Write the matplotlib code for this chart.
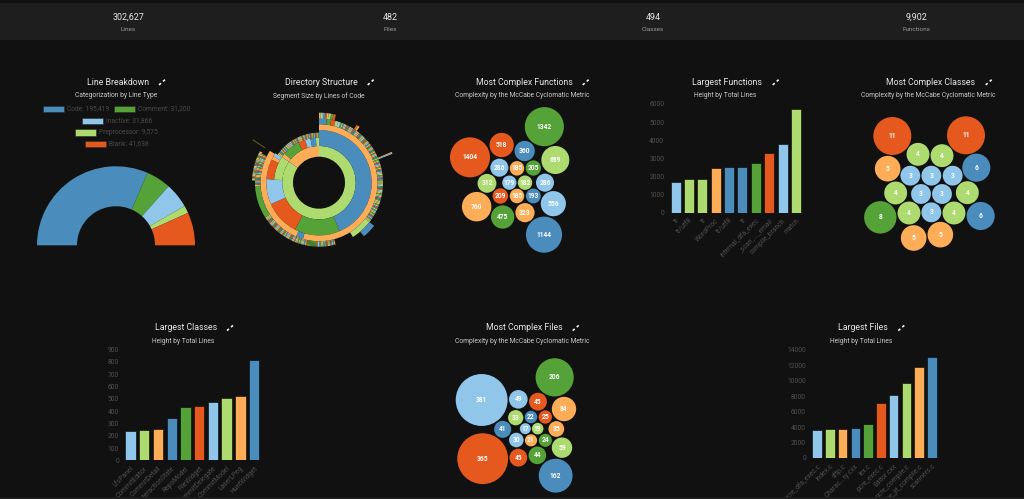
import matplotlib
matplotlib.use("Agg")
import matplotlib.pyplot as plt
from matplotlib.patches import Rectangle

plt.rcParams['font.family'] = ['Roboto', 'DejaVu Sans']
W, H = 1024, 499
BG, BAND = '#111111', '#1e1e1e'
PAL = {'b': '#4a8cbc', 'g': '#55a238', 'L': '#8fc6ea', 'l': '#aedb70', 'o': '#fdad57', 'r': '#e5591f', '.': 'none', 'n': '#6b5a2a'}

# ---- data ----
stat_values = ['302,627', '482', '494', '9,902']
stat_names = ['Lines', 'Files', 'Classes', 'Functions']

line_types = ['Code', 'Comment', 'Inactive', 'Preprocessor', 'Blank']
line_counts = [195419, 31200, 31866, 9575, 41638]
line_labels = ['195,419', '31,200', '31,866', '9,575', '41,638']
line_colors = ['b', 'g', 'L', 'l', 'r']

func_names = ['tr', 'tr/utf8', 'tr', 'WordProc', 'tr/utf8', 'tr', 'internal_dfa_exec', '_scan_..._email', 'compile_branch', 'match']
func_lines = [1700, 1850, 1850, 2480, 2520, 2520, 2730, 3270, 3800, 5700]
func_colors = 'LllobbgrLl'

class_names = ['LfsPanel', 'CommitEditor', 'CommitDetail', 'InteractionState', 'RepoModel', 'FileWidget', 'CommitDelegate', 'CommitModel', 'LaserLPeg', 'HuntWidget']
class_lines = [240, 250, 255, 345, 435, 440, 475, 510, 520, 820]
class_colors = 'LlobgrLlob'

file_names = ['pcre_dfa_exec.c', 'index.c', 'sftp.c', 'Charac...ry.cxx', 'lex.c', 'pcre_exec.c', 'Editor.cxx', 'pcre_compile.c', 'pcre_jit_compile.c', 'scanners.c']
file_lines = [3650, 3700, 3750, 3950, 4350, 7100, 8200, 9750, 11850, 13100]
file_colors = 'LlobgrLlob'

cx_func_values = [1404, 518, 1342, 360, 689, 286, 185, 205, 312, 179, 182, 286, 209, 185, 193, 760, 556, 475, 323, 1144]
cx_func_colors = 'rrgblLoglLlLroboLgob'
cx_func_x = [120, 215, 343, 284, 376, 208, 261, 310, 171, 238, 285, 345, 211, 261, 310, 140, 370, 218, 285, 342]
cx_func_y = [262, 225, 170, 243, 270, 293, 295, 294, 340, 338, 338, 338, 378, 378, 378, 410, 401, 441, 428, 494]

cx_file_values = [381, 49, 45, 206, 84, 33, 22, 25, 41, 17, 19, 35, 30, 21, 24, 59, 365, 45, 44, 162]
cx_file_colors = 'LLrgolbrbLloLoglrrgb'
cx_file_x = [125, 235, 294, 344, 372, 227, 273, 316, 188, 256, 293, 349, 229, 273, 316, 366, 128, 235, 292, 347]
cx_file_y = [240, 238, 245, 172, 267, 293, 291, 291, 328, 326, 326, 327, 360, 361, 361, 383, 416, 413, 406, 467]

cx_class_values = [11, 11, 4, 4, 5, 6, 3, 3, 3, 4, 3, 3, 4, 8, 4, 3, 4, 6, 5, 5]
cx_class_colors = 'rrllobLLLlLLlglLlboo'
cx_class_x = [127, 348, 204, 276, 113, 379, 181, 244, 308, 137, 213, 276, 352, 91, 177, 244, 312, 392, 191, 271]
cx_class_y = [198, 196, 253, 257, 296, 293, 317, 317, 317, 369, 372, 372, 368, 442, 429, 427, 429, 438, 504, 494]

# Sunburst: each ring is (inner, outer, [(degrees clockwise, colours)]);
# several colour letters share their arc in equal stripes
sun_center = (319, 182.7)
sun_rings = [
    (26, 36.7, [(305, 'l'), (55, 'o')]),
    (36.7, 52.7, [(157, 'b'), (50, 'g'), (39, 'r'), (28, 'L')]),
    (36.7, 45, [(274, '.'), (31, 'l'), (5, 'o'), (23, 'g'), (9, 'r'), (7, 'L'), (7, 'b'), (4, 'l')]),
    (45, 52.7, [(274, '.'), (22, 'r'), (8, 'oL'), (56, '.')]),
    (45, 50, [(304, '.'), (6, 'logb'), (10, 'lrobLglo'), (8, 'LoLlbr'), (10, 'lgobrLlo'), (22, 'lrgLobrlogLbrolgLbrolg')]),
    (52.7, 58.5, [(196, 'o'), (7, 'b'), (100, 'o')]),
    (58.5, 64, [(7, 'b'), (4, 'g'), (4, 'r'), (5, 'lL'),
                (108, 'glboLrgbloLrbgLolrbgoLlbrgoLblrgLobglrLobglglrbLoglrbLolgLrbglolLgbrlLoglLrbglolgLrblgLoglrbLgol'),
                (20, 'l'), (17, '.'),
                (35, 'ogLbrlorgLblogbLrgggggggggrobLlogLg'), (37, 'olrLobgrlLoblgrLobgrlLobrgLlobrgLol'),
                (30, 'g'), (30, 'lrbLogbrlogLbrlogLrblgoLlbrog'), (60, '.')]),
    (64, 70, [(8, 'olLbro'), (6, 'lgr'), (114, '.'), (12, 'b')]),
    (64, 67, [(272, '.'), (26, 'lgrLolgrLolbrgLolgrlLo')]),
    (64, 69, [(33, '.'), (3, 'ro'), (324, '.')]),
    (64, 79, [(67, '.'), (1.5, 'oL'), (234, '.'), (0.8, 'n')]),
]

# ---- figure ----
fig = plt.figure(figsize=(W / 100, H / 100), dpi=100, facecolor=BG)

def px_axes(x0, y_top, w, h, **kw):
    return fig.add_axes([x0 / W, 1 - (y_top + h) / H, w / W, h / H], **kw)

# overlay in image pixels
ov = fig.add_axes([0, 0, 1, 1], zorder=5)
ov.set_xlim(0, W); ov.set_ylim(H, 0); ov.axis('off'); ov.patch.set_alpha(0)
ov.add_patch(Rectangle((0, 3), W, 37, color=BAND, lw=0, zorder=0))
ov.add_patch(Rectangle((0, 497), W, 2, color=BAND, lw=0, zorder=10))

for x, v, n in zip([128.5, 390.5, 653, 916], stat_values, stat_names):
    ov.text(x, 17, v, color='#e8e8e8', fontsize=6.4, ha='center', va='center')
    ov.text(x, 29, n, color='#9a9a9a', fontsize=4.6, ha='center', va='center')

titles = [
    ('Line Breakdown', 118, 82.3, 162, 116, 95.7, 'Categorization by Line Type'),
    ('Directory Structure', 321, 82.3, 370.7, 319, 95.7, 'Segment Size by Lines of Code'),
    ('Most Complex Functions', 524.3, 82.3, 585.7, 522, 95.7, 'Complexity by the McCabe Cyclomatic Metric'),
    ('Largest Functions', 727.3, 82.3, 775.7, 725, 95.7, 'Height by Total Lines'),
    ('Most Complex Classes', 930.7, 82.3, 988.7, 928.7, 95.7, 'Complexity by the McCabe Cyclomatic Metric'),
    ('Largest Classes', 185.7, 328, 230, 183.3, 341.3, 'Height by Total Lines'),
    ('Most Complex Files', 524.3, 328, 575.7, 522.3, 341.3, 'Complexity by the McCabe Cyclomatic Metric'),
    ('Largest Files', 863, 328, 901.3, 861, 341.3, 'Height by Total Lines'),
]
for t, x, y, ix, sx, sy, sub in titles:
    ov.text(x, y, t, color='#e6e6e6', fontsize=6.3, ha='center', va='center')
    # expand icon: no installed font has this glyph, so it is two short diagonal strokes
    ov.plot([ix - 3, ix - 1], [y + 2.6, y + 0.9], color='#f2f2f2', lw=1.2, solid_capstyle='butt')
    ov.plot([ix + 1, ix + 3], [y - 0.9, y - 2.6], color='#f2f2f2', lw=1.2, solid_capstyle='butt')
    ov.text(sx, sy, sub, color='#c8c8c8', fontsize=4.9, ha='center', va='center')

# legend of the gauge
legend_pos = [(43.3, 109), (114.3, 109), (81.7, 120.7), (75.3, 132.3), (84.7, 143.7)]
for (lx, ly), name, lab, c in zip(legend_pos, line_types, line_labels, line_colors):
    ov.add_patch(Rectangle((lx, ly - 3.2), 21, 6.4, facecolor=PAL[c], edgecolor='#2a2a2a', lw=0.4))
    ov.text(lx + 24, ly, f'{name}: {lab}', color='#4a4a4a', fontsize=4.8, ha='left', va='center')

# gauge
R = 79
ga = px_axes(116 - R, 245.3 - R, 2 * R, 2 * R)
ga.pie(line_counts + [sum(line_counts)], colors=[PAL[c] for c in line_colors] + ['none'], radius=1,
       startangle=180, counterclock=False, wedgeprops=dict(width=0.506, lw=0))
ga.set_xlim(-1, 1); ga.set_ylim(-1, 1); ga.patch.set_alpha(0)

# sunburst
RS = 80
sa = px_axes(sun_center[0] - RS, sun_center[1] - RS, 2 * RS, 2 * RS)
for inner, outer, arcs in sun_rings:
    sizes, cols = [], []
    for deg, pat in arcs:
        for ch in pat:
            sizes.append(deg / len(pat))
            cols.append(PAL[ch])
    total = sum(sizes)
    if total < 360:
        sizes.append(360 - total); cols.append('none')
    sa.pie(sizes, colors=cols, radius=outer / RS, startangle=90, counterclock=False, normalize=True,
           wedgeprops=dict(width=(outer - inner) / RS, lw=0))
sa.set_xlim(-1, 1); sa.set_ylim(-1, 1); sa.patch.set_alpha(0)

# bubbles (positions read in 3x crops with known origins)
def bubbles(vals, cols, xs, ys, ox, oy, k, fs):
    px = [ox + x / 3 for x in xs]
    py = [oy + y / 3 for y in ys]
    sz = [(2 * k * v ** 0.5 * 0.72) ** 2 for v in vals]
    ov.scatter(px, py, s=sz, c=[PAL[c] for c in cols], linewidths=0, zorder=2)
    for x, y, v in zip(px, py, vals):
        ov.text(x, y, str(v), color='white', fontsize=fs, ha='center', va='center', fontweight='bold', zorder=3)

bubbles(cx_func_values, cx_func_colors, cx_func_x, cx_func_y, 430, 70, 0.534, 4.8)
bubbles(cx_file_values, cx_file_colors, cx_file_x, cx_file_y, 440, 320, 1.33, 4.8)
bubbles(cx_class_values, cx_class_colors, cx_class_x, cx_class_y, 850, 70, 5.73, 4.8)

# bars
def bars(x0, y_top, w, h, names, vals, cols, ymax, step):
    a = px_axes(x0, y_top, w, h)
    a.set_facecolor('none')
    a.bar(range(len(vals)), vals, width=0.75, color=[PAL[c] for c in cols], edgecolor='#00000090', linewidth=0.7)
    a.set_xlim(-0.5, len(vals) - 0.5); a.set_ylim(0, ymax)
    a.set_yticks(range(0, ymax + 1, step))
    a.set_xticks(range(len(vals)))
    a.set_xticklabels(names, rotation=45, ha='right', rotation_mode='anchor')
    a.tick_params(length=0, labelsize=4.9, labelcolor='#505050', pad=3.4)
    for s in a.spines.values():
        s.set_visible(False)

bars(669, 104, 133.6, 108.7, func_names, func_lines, func_colors, 6000, 1000)
bars(123.6, 349.7, 137.4, 110.6, class_names, class_lines, class_colors, 900, 100)
bars(810.7, 350, 127.6, 108, file_names, file_lines, file_colors, 14000, 2000)

fig.savefig('out.png', dpi=100, facecolor=BG)
